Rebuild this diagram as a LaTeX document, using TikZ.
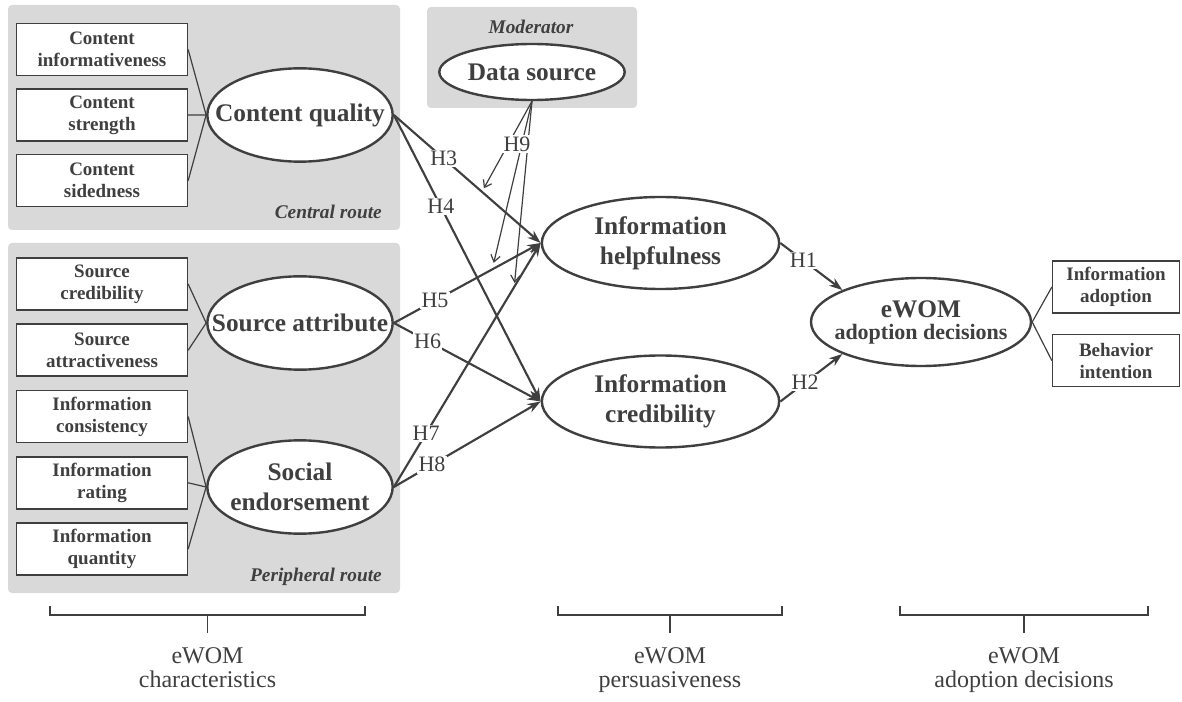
\documentclass[tikz,border=0pt]{standalone}
\usepackage{fontspec}
\setmainfont{Liberation Serif}
\usepackage{tikz}
\usetikzlibrary{positioning, arrows.meta, calc, shapes.geometric}
\definecolor{routebg}{HTML}{D9D9D9}
\definecolor{ink}{HTML}{3F3F3F}

\begin{document}
\begin{tikzpicture}[x=0.75pt, y=-0.75pt,
    every node/.style={text=ink},
    indicator/.style={draw=ink, line width=1.2pt, fill=white, minimum width=128pt, minimum height=39pt,
      inner sep=0pt, align=center, font=\fontsize{14.25}{16.5}\selectfont\bfseries},
    construct/.style={draw=ink, ellipse, line width=1.8pt, fill=white, inner sep=0pt},
    cname/.style={align=center, inner sep=0pt, font=\fontsize{19}{22.5}\selectfont\bfseries},
    routename/.style={anchor=east, inner sep=0pt, font=\fontsize{14.5}{16}\selectfont\bfseries\itshape},
    link/.style={draw=ink, line width=0.9pt},
    hyparrow/.style={draw=ink, line width=1.6pt, -{Stealth[length=10pt, width=7pt]}},
    modarrow/.style={draw=ink, line width=0.9pt, -{Straight Barb[length=5pt, width=7pt]}},
    hyp/.style={fill=white, inner sep=1pt, font=\fontsize{16.5}{16.5}\selectfont},
    bracket/.style={draw=ink, line width=0.9pt},
    stage/.style={anchor=north, align=center, inner sep=0pt, font=\fontsize{18}{18}\selectfont}]

  \useasboundingbox (0,0) rectangle (1182,702);

  % route panels
  \fill[routebg, rounded corners=3pt] (8,5) rectangle (400,230);
  \fill[routebg, rounded corners=3pt] (8,243) rectangle (400,593);
  \fill[routebg, rounded corners=3pt] (427,7) rectangle (637,108);
  \node[routename] (central) at (382,212) {Central route};
  \node[routename] (peripheral) at (382,577) {Peripheral route};
  \node[routename, anchor=center] (moderator) at (531,27) {Moderator};

  % eWOM characteristics
  \node[indicator] (cinf) at (102,49.5) {Content\\informativeness};
  \node[indicator, below=9pt of cinf] (cstr) {Content\\strength};
  \node[indicator, below=9pt of cstr] (csid) {Content\\sidedness};
  \node[indicator] (scred) at (102,284) {Source\\credibility};
  \node[indicator, below=9.5pt of scred] (sattr) {Source\\attractiveness};
  \node[indicator, below=9.5pt of sattr] (icons) {Information\\consistency};
  \node[indicator, below=9.5pt of icons] (irate) {Information\\rating};
  \node[indicator, below=9.5pt of irate] (iquan) {Information\\quantity};

  \node[construct, minimum width=139pt, minimum height=70pt,
        label={[cname]center:Content quality}] (cq) at (300,115) {};
  \node[construct, minimum width=139pt, minimum height=70pt,
        label={[cname]center:Source attribute}] (sa) at (300,323) {};
  \node[construct, minimum width=139pt, minimum height=70pt,
        label={[cname]center:Social\\endorsement}] (se) at (300,487) {};

  \foreach \src in {cinf, cstr, csid} \draw[link] (\src.east) -- (cq.west);
  \foreach \src in {scred, sattr} \draw[link] (\src.east) -- (sa.west);
  \foreach \src in {icons, irate, iquan} \draw[link] (\src.east) -- (se.west);

  % moderator
  \node[construct, minimum width=139pt, minimum height=42pt,
        label={[cname]center:Data source}] (ds) at (532,72) {};

  % eWOM persuasiveness
  \node[construct, minimum width=178pt, minimum height=69pt,
        label={[cname]center:Information\\helpfulness}] (ih) at (660.5,243) {};
  \node[construct, minimum width=178pt, minimum height=69pt,
        label={[cname]center:Information\\credibility}] (ic) at (660.5,401.5) {};

  % eWOM adoption decisions
  \node[construct, minimum width=165pt, minimum height=66pt,
        label={[cname, font=\fontsize{16.5}{16.5}\selectfont\bfseries]center:{\fontsize{19}{19}\selectfont eWOM}\\adoption decisions}] (ad) at (921,322) {};
  \node[indicator, minimum width=95pt] (iadopt) at (1116,287) {Information\\adoption};
  \node[indicator, minimum width=95pt, below=15pt of iadopt] (bint) {Behavior\\intention};
  \draw[link] (ad.east) -- (iadopt.west);
  \draw[link] (ad.east) -- (bint.west);

  % hypotheses
  \draw[hyparrow] (cq.east) -- node[hyp, pos=.34] {H3} (ih.west);
  \draw[hyparrow] (cq.east) -- node[hyp, pos=.32] {H4} (ic.west);
  \draw[hyparrow] (sa.east) -- node[hyp, pos=.28] {H5} (ih.west);
  \draw[hyparrow] (sa.east) -- node[hyp, pos=.23] {H6} (ic.west);
  \draw[hyparrow] (se.east) -- node[hyp, pos=.22] {H7} (ih.west);
  \draw[hyparrow] (se.east) -- node[hyp, pos=.26] {H8} (ic.west);
  \draw[hyparrow] (ih.east) -- node[hyp, pos=.37] {H1} (ad.north west);
  \draw[hyparrow] (ic.east) -- node[hyp, pos=.40] {H2} (ad.south west);

  % moderating effect
  \path (cq.east) -- (ih.west) coordinate[pos=.60] (m3);
  \path (sa.east) -- (ih.west) coordinate[pos=.67] (m5);
  \path (se.east) -- (ih.west) coordinate[pos=.82] (m7);
  \draw[modarrow, shorten >=3pt] (ds.south) -- (m3);
  \draw[modarrow, shorten >=5pt] (ds.south) -- (m5);
  \draw[modarrow, shorten >=3pt] (ds.south) -- (m7);
  \node[hyp] (h9) at (517,144) {H9};

  % stages
  \foreach \xa/\xb/\txt [count=\i] in {50/365/{eWOM\\characteristics},
      558/782/{eWOM\\persuasiveness}, 900/1148/{eWOM\\adoption decisions}} {
    \draw[bracket] (\xa,606) -- (\xa,615) -- (\xb,615) -- (\xb,606);
    \draw[bracket] ({(\xa+\xb)/2},615) -- ({(\xa+\xb)/2},633);
    \node[stage] (stage\i) at ({(\xa+\xb)/2},647) {\txt};
  }
\end{tikzpicture}
\end{document}
